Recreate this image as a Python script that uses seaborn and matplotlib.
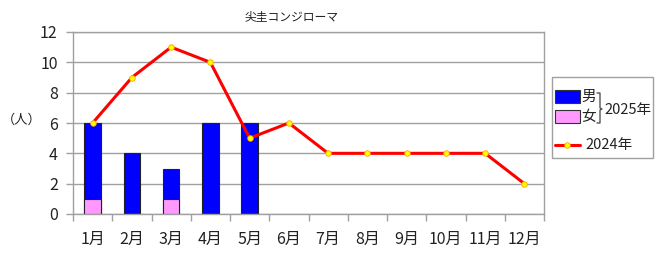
import matplotlib
matplotlib.use("Agg")
import matplotlib.pyplot as plt
import seaborn as sns
import numpy as np
import pandas as pd
from matplotlib.patches import Rectangle
from matplotlib.lines import Line2D

months = ["1月", "2月", "3月", "4月", "5月", "6月", "7月", "8月", "9月", "10月", "11月", "12月"]
male_2025 = [5, 4, 2, 6, 6, 0, 0, 0, 0, 0, 0, 0]
female_2025 = [1, 0, 1, 0, 0, 0, 0, 0, 0, 0, 0, 0]
total_2024 = [6, 9, 11, 10, 5, 6, 4, 4, 4, 4, 4, 2]
n_2025 = 5

sns.set_theme(style="white")
plt.rcParams['font.family'] = ['Noto Sans CJK JP', 'DejaVu Sans']

fig = plt.figure(figsize=(6.6, 2.62), dpi=100)
ax = fig.add_axes([73/660, 1-214/262, (544-73)/660, (214-32)/262])

df = pd.DataFrame({
    "month": months[:n_2025],
    "total": [m + f for m, f in zip(male_2025[:n_2025], female_2025[:n_2025])],
    "female": female_2025[:n_2025],
})
df_line = pd.DataFrame({"pos": np.arange(len(months)), "v": total_2024})

order = months
sns.barplot(data=df, x="month", y="total", order=order, color="#0000FF",
            saturation=1, width=0.42, edgecolor="#222222", linewidth=0.8, ax=ax)
sns.barplot(data=df, x="month", y="female", order=order, color="#FF99FF",
            saturation=1, width=0.42, edgecolor="#222222", linewidth=0.8, ax=ax)
sns.lineplot(data=df_line, x="pos", y="v", color="#FF0000", linewidth=2.2,
             marker="o", markersize=4, markerfacecolor="#FFFF00",
             markeredgecolor="#FFA500", markeredgewidth=0.6, ax=ax, zorder=5)

ax.set_xlim(-0.5, 11.5)
ax.set_ylim(0, 12)
ax.set_yticks(range(0, 13, 2))
ax.yaxis.grid(True, color="#A0A0A0", linewidth=1)
ax.set_axisbelow(True)
ax.set_xlabel("")
ax.set_ylabel("")
ax.set_xticks(range(12))
ax.set_xticklabels(months, fontsize=11.5, color="#222222")
ax.set_xticks(np.arange(-0.5, 12, 1), minor=True)
ax.tick_params(axis="x", which="major", length=0, pad=12)
ax.tick_params(axis="x", which="minor", length=5, color="#A0A0A0", width=1, direction="out", bottom=True)
ax.tick_params(axis="y", length=5, color="#A0A0A0", width=1, direction="out", left=True, labelsize=11.5, labelcolor="#222222", pad=6)
for s in ax.spines.values():
    s.set_color("#A0A0A0")
    s.set_linewidth(1)

fig.text(22/660, 1-120/262, "（人）", fontsize=9.5, ha="center", va="center", color="#222222")
fig.text(292/660, 1-17/262, "尖圭コンジローマ", fontsize=8.5, ha="center", va="center", color="#222222")

# legend
def fx(px):
    return px / 660
def fy(py):
    return 1 - py / 262

fig.add_artist(Rectangle((fx(552), fy(158)), (653-552)/660, (158-77)/262, transform=fig.transFigure,
                         facecolor="white", edgecolor="#A0A0A0", linewidth=1))
fig.add_artist(Rectangle((fx(555), fy(103)), 25/660, 13/262, transform=fig.transFigure,
                         facecolor="#0000FF", edgecolor="#333333", linewidth=0.8))
fig.add_artist(Rectangle((fx(555), fy(123)), 25/660, 13/262, transform=fig.transFigure,
                         facecolor="#FF99FF", edgecolor="#333333", linewidth=0.8))
fig.text(fx(581), fy(97), "男", fontsize=10.5, ha="left", va="center", color="#222222")
fig.text(fx(581), fy(117), "女", fontsize=10.5, ha="left", va="center", color="#222222")
# bracket
fig.add_artist(Line2D([fx(597), fx(600), fx(600), fx(602), fx(600), fx(600), fx(597)],
                      [fy(93), fy(93), fy(108), fy(109), fy(110), fy(123), fy(123)],
                      transform=fig.transFigure, color="#444444", linewidth=0.9))
fig.text(fx(604), fy(110), "2025年", fontsize=10.5, ha="left", va="center", color="#222222")
fig.add_artist(Line2D([fx(555), fx(580)], [fy(145), fy(145)], transform=fig.transFigure,
                      color="#FF0000", linewidth=2.2))
fig.add_artist(Line2D([fx(567)], [fy(145)], transform=fig.transFigure, marker="o", markersize=4,
                      markerfacecolor="#FFFF00", markeredgecolor="#FFA500", markeredgewidth=0.6))
fig.text(fx(585), fy(145), "2024年", fontsize=10.5, ha="left", va="center", color="#222222")

fig.savefig("out.png", dpi=100, facecolor="white")
